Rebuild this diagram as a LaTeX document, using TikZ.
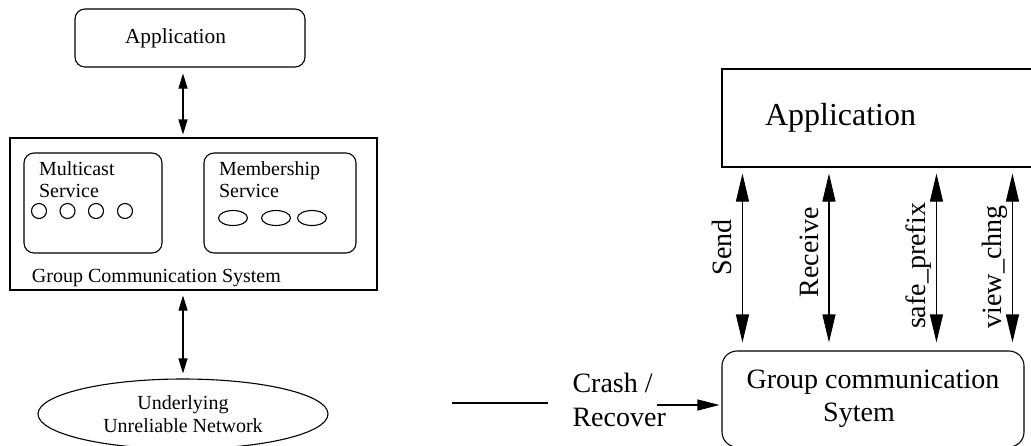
\documentclass[tikz,border=0pt]{standalone}
\usepackage{fontspec}
\setmainfont{Liberation Serif}
\usetikzlibrary{arrows.meta,shapes.geometric}

\begin{document}
\begin{tikzpicture}[x=0.5pt,y=-0.5pt,line width=0.55pt,
  box node/.style={draw,rounded corners=5pt,inner sep=0pt},
  plain node/.style={draw,inner sep=0pt},
  text node/.style={inner sep=0pt,align=left,font=\fontsize{10}{11}\selectfont},
  dot node/.style={circle,draw,minimum size=7.5pt,inner sep=0pt},
  oval node/.style={ellipse,draw,minimum width=14.5pt,minimum height=7.5pt,inner sep=0pt},
  call node/.style={rotate=90,anchor=south,inner xsep=0pt,inner ysep=5pt,text depth=0pt,font=\fontsize{14}{16}\selectfont},
  small arrow/.style={<->,>={Triangle[length=7.5pt,width=4.5pt]}},
  big arrow/.style={<->,>={Triangle[length=14pt,width=6.5pt]}}]
  \useasboundingbox (0,0) rectangle (1031,445);

  % left: layered view
  \node[box node,minimum width=115pt,minimum height=29pt,inner xsep=25pt,text width=65pt,align=left,font=\fontsize{10.7}{13}\selectfont] (app) at (190,38) {Application};
  \node[plain node,minimum width=183.5pt,minimum height=76pt] (gcs) at (193.5,214) {};
  \node[box node,minimum width=69pt,minimum height=50pt] (mcast) at (93,203) {};
  \node[box node,minimum width=76pt,minimum height=50pt] (member) at (280,203) {};
  \node[text node,anchor=north west] (mcasttxt) at ([xshift=7.5pt,yshift=-4.5pt]mcast.north west) {Multicast\\Service};
  \node[text node,anchor=north west] (membertxt) at ([xshift=7.5pt,yshift=-4.5pt]member.north west) {Membership\\Service};
  \node[dot node] (m1) at (39,211) {};
  \node[dot node] (m2) at (67.5,211) {};
  \node[dot node] (m3) at (96,211) {};
  \node[dot node] (m4) at (125,211) {};
  \node[oval node] (s1) at (233,218) {};
  \node[oval node] (s2) at (276,218) {};
  \node[oval node] (s3) at (312,218) {};
  \node[text node,anchor=base west] (gcstxt) at ([xshift=11pt,yshift=4pt]gcs.south west) {Group Communication System};
  \node[ellipse,draw,minimum width=145pt,minimum height=35pt,inner sep=0pt,align=center,font=\fontsize{10}{11.5}\selectfont] (net) at (183,414) {Underlying\\Unreliable Network};

  \path[small arrow]
    (app.south -| net.north) edge[shorten <=3pt,shorten >=1.5pt] (gcs.north -| net.north)
    (gcs.south -| net.north) edge[shorten <=2.5pt,shorten >=2.5pt] (net.north);

  % right: interface of the group communication system
  \node[plain node,minimum width=164pt,minimum height=49pt,inner xsep=21.5pt,text width=121pt,align=left,font=\fontsize{16}{19}\selectfont] (app2) at (886,118) {Application};
  \node[box node,rounded corners=7.5pt,minimum width=151pt,minimum height=48pt,align=center,font=\fontsize{14}{16.5}\selectfont] (sys) at (873,399) {Group communication\\Sytem\hspace*{14pt}};

  \path[big arrow,shorten <=3pt,shorten >=4pt]
    ([xshift=10.5pt]app2.south west) edge node[call node,pos=0.435] {Send} ([xshift=10.5pt]sys.north west)
    ([xshift=53.75pt]app2.south west) edge node[call node,pos=0.462] {Receive} ([xshift=53.75pt]sys.north west)
    ([xshift=107.5pt]app2.south west) edge node[call node,pos=0.538] {safe\_prefix} ([xshift=107.5pt]sys.north west)
    ([xshift=145.5pt]app2.south west) edge node[call node,pos=0.543] {view\_chng} ([xshift=145.5pt]sys.north west);

  \coordinate (cl) at (452,403);
  \coordinate (cr) at (548,403);
  \draw (cl) -- (cr);
  \node[inner sep=0pt,anchor=west,align=left,font=\fontsize{14}{17}\selectfont] (crash) at (572,400) {Crash /\\Recover};
  \coordinate (cin) at (657,405);
  \draw[-{Triangle[length=11pt,width=5.5pt]},shorten >=1pt] (cin) -- (cin -| sys.west);
\end{tikzpicture}
\end{document}
